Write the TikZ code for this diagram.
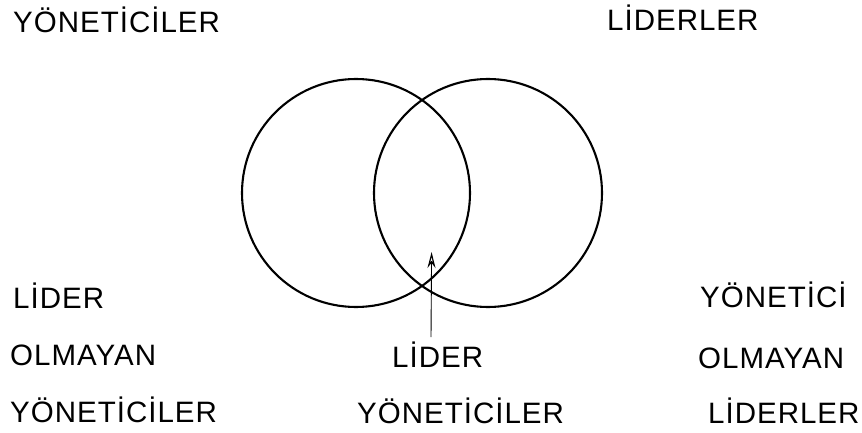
\documentclass[tikz,border=0pt]{standalone}
\usepackage{fontspec}
\setmainfont{Liberation Sans}[LetterSpace=3.4]
\usetikzlibrary{arrows.meta}
\begin{document}
\begin{tikzpicture}[x=1pt,y=-1pt,
  lbl/.style={anchor=base west,inner sep=0pt,font=\fontsize{29.5}{35}\selectfont},
  venn/.style={draw=black,line width=2.1pt},
  pointer/.style={draw=black,line width=0.9pt,-{Stealth[length=16pt,width=8pt,open,line width=1.2pt]}}]
\useasboundingbox (0,0) rectangle (862,433);
\node[lbl] (mgr) at (13,33) {YÖNETİCİLER};
\node[lbl] (ldr) at (607,31) {LİDERLER};
\node[venn,circle,minimum size=228pt,inner sep=0pt] (cl) at (356,193) {};
\node[venn,circle,minimum size=228pt,inner sep=0pt] (cr) at (488,193) {};
\node[lbl] (l1) at (13,308) {LİDER};
\node[lbl] (l2) at (10,365) {OLMAYAN};
\node[lbl] (l3) at (10,422) {YÖNETİCİLER};
\node[lbl] (m1) at (392,367) {LİDER};
\node[lbl] (m2) at (357,423) {YÖNETİCİLER};
\node[lbl] (r1) at (700,307) {YÖNETİCİ};
\node[lbl] (r2) at (698,368) {OLMAYAN};
\node[lbl] (r3) at (708,423) {LİDERLER};
\coordinate (tail) at (431,337);
\coordinate (tip) at (431.6,252);
\draw[pointer] (tail) -- (tip);
\end{tikzpicture}
\end{document}
